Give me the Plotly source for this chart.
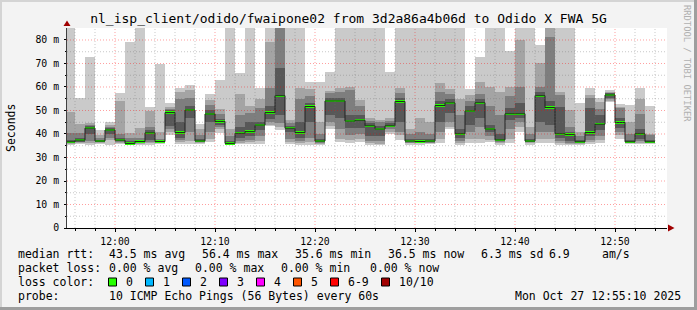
import plotly.graph_objects as go
import pandas as pd

# ---------------- data (sorted ping RTTs per minute slot, ms) ----------------
slot_first = "2025-10-27 11:55:00"
rank1 = [35.3,35.7,35.5,35.8,35.3,35.6,35.2,35.5,35.5,35.7, 39.6,35.8,35.7,35.6,36.5,40.5,35.3,35.8,35.8,35.8,
         43.3,41.7,35.8,35.5,35.5,35.3,42.0,36.5,36.0,36.5, 35.5,35.3,40.0,37.5,35.5,35.5,35.6,36.0,42.0,35.5,
         36.0,36.0,36.5,35.5,36.0,41.0,35.5,36.0,36.0,35.3, 35.3,35.5,35.8,36.0,53.5,38.0,35.7,35.8,35.6]
rank2 = [35.8,36.0,36.0,36.2,37.5,36.0,35.5,35.9,36.0,36.0, 41.0,36.5,37.0,36.0,38.0,42.0,35.6,36.3,36.5,37.0,
         44.0,43.0,36.5,36.0,36.5,35.7,43.5,38.0,37.5,38.0, 36.0,35.8,41.0,39.5,36.0,36.0,36.0,38.0,43.0,36.0,
         38.0,38.0,37.5,36.0,38.0,43.0,36.0,38.0,38.0,36.0, 35.8,35.8,36.5,37.5,54.0,39.5,36.0,36.2,36.0]
rank3 = [36.1,36.4,37.0,36.5,38.5,36.5,35.7,36.2,36.5,36.3, 42.0,37.5,41.0,36.4,41.0,43.0,35.8,37.0,37.5,39.0,
         45.0,44.5,38.0,37.0,38.5,36.0,45.0,42.0,39.5,40.0, 37.0,37.0,42.0,41.0,36.3,36.3,36.3,41.0,45.0,37.0,
         41.0,43.0,39.0,36.5,42.0,45.0,36.4,41.0,41.0,37.0, 36.2,36.1,37.5,39.0,54.8,41.0,36.3,37.0,36.3]
rank4 = [36.4,36.8,40.0,36.8,40.0,37.0,35.8,36.5,37.5,36.6, 43.5,38.5,47.0,36.7,45.0,44.0,35.9,38.5,39.0,41.5,
         46.5,48.0,41.0,38.5,45.0,36.5,48.0,47.0,42.5,42.5, 39.0,39.0,42.8,45.0,36.6,36.5,36.6,45.0,49.0,38.5,
         44.0,47.0,41.0,37.0,46.0,47.0,36.7,45.0,44.0,38.5, 37.0,36.4,39.0,41.5,55.5,42.5,36.5,38.0,36.5]
rank5 = [36.6,37.2,42.2,36.9,41.5,37.2,35.9,36.7,40.2,36.7, 48.8,40.3,49.9,36.9,48.2,45.1,35.9,40.0,40.7,43.5,
         48.8,56.0,42.2,40.3,51.4,36.8,53.8,53.8,45.2,45.6, 43.2,41.8,43.2,53.5,36.8,36.6,36.8,51.8,53.0,39.8,
         49.5,53.0,41.8,37.2,48.3,48.3,36.8,56.0,51.0,39.8, 39.5,36.5,40.3,43.9,56.3,44.6,36.5,39.8,36.5]
rank6 = [36.8,37.6,42.8,37.1,41.9,37.6,36.1,36.9,40.8,36.9, 49.4,40.9,50.5,37.2,48.8,45.6,36.1,40.6,41.3,44.1,
         49.4,56.6,42.7,40.9,52.0,37.2,54.3,54.3,45.8,46.1, 43.8,42.4,43.8,54.1,37.2,37.0,37.2,52.4,53.5,40.4,
         50.1,53.6,42.4,37.8,48.9,48.9,37.2,56.6,51.5,40.4, 40.0,36.9,40.9,44.4,56.9,45.1,36.9,40.4,36.9]
rank7 = [37.5,38.5,43.5,37.5,42.5,38.5,37.0,37.5,41.5,37.3, 50.0,45.0,52.0,38.0,50.0,46.5,37.0,43.0,45.0,45.0,
         52.0,68.0,43.5,45.0,53.0,38.0,55.5,55.5,48.0,48.0, 44.5,43.5,44.5,55.5,38.0,38.0,38.0,54.0,55.0,42.0,
         52.0,55.0,44.0,40.0,51.0,53.0,38.0,58.0,54.0,51.6, 41.0,37.5,51.0,48.0,57.3,47.0,37.5,42.0,37.5]
rank8 = [40.5,40.3,44.0,38.5,43.0,40.0,38.5,38.5,43.0,38.0, 50.8,55.0,55.2,39.5,52.3,48.5,39.0,48.0,49.0,50.9,
         59.4,86.0,44.5,55.0,56.0,40.0,57.5,58.0,58.8,52.0, 45.5,45.0,45.5,57.5,40.0,41.0,40.0,58.0,57.0,48.0,
         54.0,57.0,52.0,48.0,56.0,60.1,40.0,60.0,81.4,56.6, 43.0,39.0,55.2,50.5,57.6,50.9,40.0,48.5,39.5]
rank9 = [49.5,44.2,44.5,39.5,44.0,54.0,40.5,42.4,49.8,41.0, 51.6,58.0,58.7,42.1,54.5,50.5,42.0,57.0,52.0,55.0,
         79.3,86.0,46.0,59.4,59.0,45.0,58.5,59.4,60.0,54.5, 47.0,46.0,47.0,59.4,42.0,47.0,45.0,61.6,59.0,55.0,
         56.6,62.0,60.0,58.0,60.0,80.0,43.0,70.0,85.0,58.0, 50.0,41.0,56.6,53.5,58.0,51.5,45.0,55.0,40.0]
rank10 = [86.0,55.2,72.9,41.7,45.3,57.3,79.3,86.0,51.6,69.6, 53.0,59.7,60.9,44.3,57.0,63.0,86.0,65.8,86.0,59.4,
          86.0,86.0,86.0,86.0,62.3,62.0,66.5,86.0,86.0,86.0, 86.0,86.0,66.5,86.0,86.0,86.0,86.0,86.0,86.0,86.0,
          59.0,72.9,86.0,86.0,75.3,86.0,86.0,78.0,86.0,86.0, 86.0,53.0,59.4,55.2,58.7,52.7,52.3,59.4,51.9]

y_tickvals = [0, 10, 20, 30, 40, 50, 60, 70, 80]
y_ticktext = ["0", "10 m", "20 m", "30 m", "40 m", "50 m", "60 m", "70 m", "80 m"]
x_tickvals = ["2025-10-27 12:00", "2025-10-27 12:10", "2025-10-27 12:20",
              "2025-10-27 12:30", "2025-10-27 12:40", "2025-10-27 12:50"]
x_ticktext = ["12:00", "12:10", "12:20", "12:30", "12:40", "12:50"]

title = "nl_isp_client/odido/fwaipone02 from 3d2a86a4b06d to Odido X FWA 5G"
loss_labels = ["0", "1", "2", "3", "4", "5", "6-9", "10/10"]
loss_colors = ["#26ff00", "#00b8ff", "#0059ff", "#7e00ff", "#ff00ff", "#ff5500", "#ff0000", "#a10000"]
smoke_colors = ["#cacaca", "#a4a4a4", "#7e7e7e", "#585858", "#323232"]

# ---------------- geometry helpers ----------------
W, H = 697, 310
L, R, T, B = 67, 667, 28, 228
def px(x): return (x - L) / (R - L)
def py(y): return (B - y) / (B - T)

MONO = "DejaVu Sans Mono"
ranks = [rank1, rank2, rank3, rank4, rank5, rank6, rank7, rank8, rank9, rank10]
n = len(rank1)
t0 = pd.Timestamp(slot_first)
fmt = "%Y-%m-%d %H:%M:%S"
starts = [(t0 + pd.Timedelta(minutes=k)).strftime(fmt) for k in range(n + 1)]
centers = [(t0 + pd.Timedelta(minutes=k, seconds=30)).strftime(fmt) for k in range(n)]
median = [(a + b) / 2 for a, b in zip(rank5, rank6)]

fig = go.Figure()
for i, col in enumerate(smoke_colors):
    lo, hi = ranks[i], ranks[9 - i]
    fig.add_trace(go.Bar(x=centers, base=lo, y=[h - l for h, l in zip(hi, lo)], width=60000,
                         marker=dict(color=col, line=dict(width=0)), hoverinfo="skip", showlegend=False))
fig.add_trace(go.Scatter(x=starts, y=median + [median[-1]], mode="lines", line=dict(color="#202020", width=1, shape="hv"),
                         hoverinfo="skip", showlegend=False))
fig.add_trace(go.Bar(x=centers, base=[m - 0.5 for m in median], y=[1.0] * n, width=60000,
                     marker=dict(color=loss_colors[0], line=dict(width=0)), hoverinfo="skip", showlegend=False))

shapes = []
# grid (drawn above the smoke, like rrdtool)
minor_x = pd.date_range("2025-10-27 11:56", "2025-10-27 12:54", freq="2min")
for t in minor_x:
    major = t.minute % 10 == 0
    shapes.append(dict(type="line", xref="x", yref="paper", x0=t.strftime(fmt), x1=t.strftime(fmt), y0=0, y1=1,
                       line=dict(color="rgba(255,0,0,0.38)" if major else "rgba(110,110,110,0.38)", width=1, dash="1px,2px"),
                       layer="above"))
for v in range(5, 85, 5):
    major = v % 10 == 0
    shapes.append(dict(type="line", xref="paper", yref="y", x0=0, x1=1, y0=v, y1=v,
                       line=dict(color="rgba(255,0,0,0.38)" if major else "rgba(110,110,110,0.38)", width=1, dash="1px,2px"),
                       layer="above"))
# arrows
shapes.append(dict(type="path", xref="paper", yref="paper",
                   path=f"M{px(63.5)},{py(26)} L{px(70.5)},{py(26)} L{px(67)},{py(20.5)} Z",
                   fillcolor="#a00000", line=dict(width=0), layer="above"))
shapes.append(dict(type="path", xref="paper", yref="paper",
                   path=f"M{px(668)},{py(224.5)} L{px(668)},{py(231.5)} L{px(674.5)},{py(228)} Z",
                   fillcolor="#a00000", line=dict(width=0), layer="above"))
# frame
shapes.append(dict(type="rect", xref="paper", yref="paper", x0=px(0), x1=px(W), y0=py(0), y1=py(2),
                   fillcolor="#d4d4d4", line=dict(width=0)))
shapes.append(dict(type="rect", xref="paper", yref="paper", x0=px(0), x1=px(2), y0=py(0), y1=py(H),
                   fillcolor="#d4d4d4", line=dict(width=0)))
shapes.append(dict(type="rect", xref="paper", yref="paper", x0=px(0), x1=px(W), y0=py(307), y1=py(H),
                   fillcolor="#9e9e9e", line=dict(width=0)))
shapes.append(dict(type="rect", xref="paper", yref="paper", x0=px(694), x1=px(W), y0=py(0), y1=py(H),
                   fillcolor="#9e9e9e", line=dict(width=0)))
# loss colour boxes
box_x = [108.5, 145.5, 182.5, 219.5, 256.5, 293.5, 330.5, 381.5]
for bx, c in zip(box_x, loss_colors):
    shapes.append(dict(type="rect", xref="paper", yref="paper", x0=px(bx), x1=px(bx + 8), y0=py(278), y1=py(286),
                       fillcolor=c, line=dict(color="#000000", width=1)))

ann = []
def txt(x, y, s, size=11.5, color="#000000", **kw):
    d = dict(x=px(x), y=py(y), xref="paper", yref="paper", text=s, showarrow=False, xanchor="left",
             yanchor="middle", font=dict(family=MONO, size=size, color=color))
    d.update(kw)
    ann.append(d)

r1, r2, r3, r4 = 254, 268, 282, 296
txt(15.5, r1, "median rtt:")
txt(106.5, r1, "43.5 ms avg")
txt(199.5, r1, "56.4 ms max")
txt(292.5, r1, "35.6 ms min")
txt(386, r1, "36.5 ms now")
txt(478.5, r1, "6.3 ms sd")
txt(546.5, r1, "6.9")
txt(599.5, r1, "am/s")
txt(15.5, r2, "packet loss:")
txt(106.5, r2, "0.00 % avg")
txt(192.5, r2, "0.00 % max")
txt(278.5, r2, "0.00 % min")
txt(368.5, r2, "0.00 % now")
txt(15.5, r3, "loss color:")
for bx, lab in zip(box_x, loss_labels):
    txt(bx + 15, r3, lab)
txt(15.5, r4, "probe:")
txt(106.5, r4, "10 ICMP Echo Pings (56 Bytes) every 60s")
txt(512.5, r4, "Mon Oct 27 12:55:10 2025")
txt(11, 128, "Seconds", size=11.5, xanchor="center", textangle=-90)
txt(687, 63, "RRDTOOL / TOBI OETIKER", size=8.8, color="#b0b0b0", xanchor="center", textangle=90)

fig.update_layout(
    width=W, height=H, autosize=False,
    margin=dict(l=L, r=W - R, t=T, b=H - B, pad=0),
    paper_bgcolor="#f3f3f3", plot_bgcolor="#ffffff",
    barmode="overlay", bargap=0, showlegend=False,
    title=dict(text=title, x=0.5, xref="container", xanchor="center", y=1 - 18.5 / H, yref="container",
               yanchor="middle", font=dict(family=MONO, size=13, color="#000000")),
    shapes=shapes, annotations=ann,
    xaxis=dict(type="date", range=["2025-10-27 11:55:12", "2025-10-27 12:55:12"], tickmode="array",
               tickvals=x_tickvals, ticktext=x_ticktext, showgrid=False, zeroline=False,
               showline=True, linecolor="#000000", linewidth=1, ticks="outside", ticklen=3, tickcolor="#000000",
               tickfont=dict(family=MONO, size=9.8, color="#000000"), ticklabelstandoff=1, layer="above traces",
               minor=dict(tickvals=[t.strftime(fmt) for t in minor_x], ticks="outside", ticklen=2, tickcolor="#000000",
                          showgrid=False)),
    yaxis=dict(range=[0, 85.1], tickmode="array", tickvals=y_tickvals, ticktext=y_ticktext, showgrid=False,
               zeroline=False, showline=True, linecolor="#404040", linewidth=1, ticks="outside", ticklen=2,
               tickcolor="#000000", tickfont=dict(family=MONO, size=9.8, color="#000000"), ticklabelstandoff=3,
               layer="above traces",
               minor=dict(tickvals=list(range(5, 85, 10)), ticks="outside", ticklen=1, tickcolor="#000000",
                          showgrid=False)),
)

fig.write_html("out.html")
